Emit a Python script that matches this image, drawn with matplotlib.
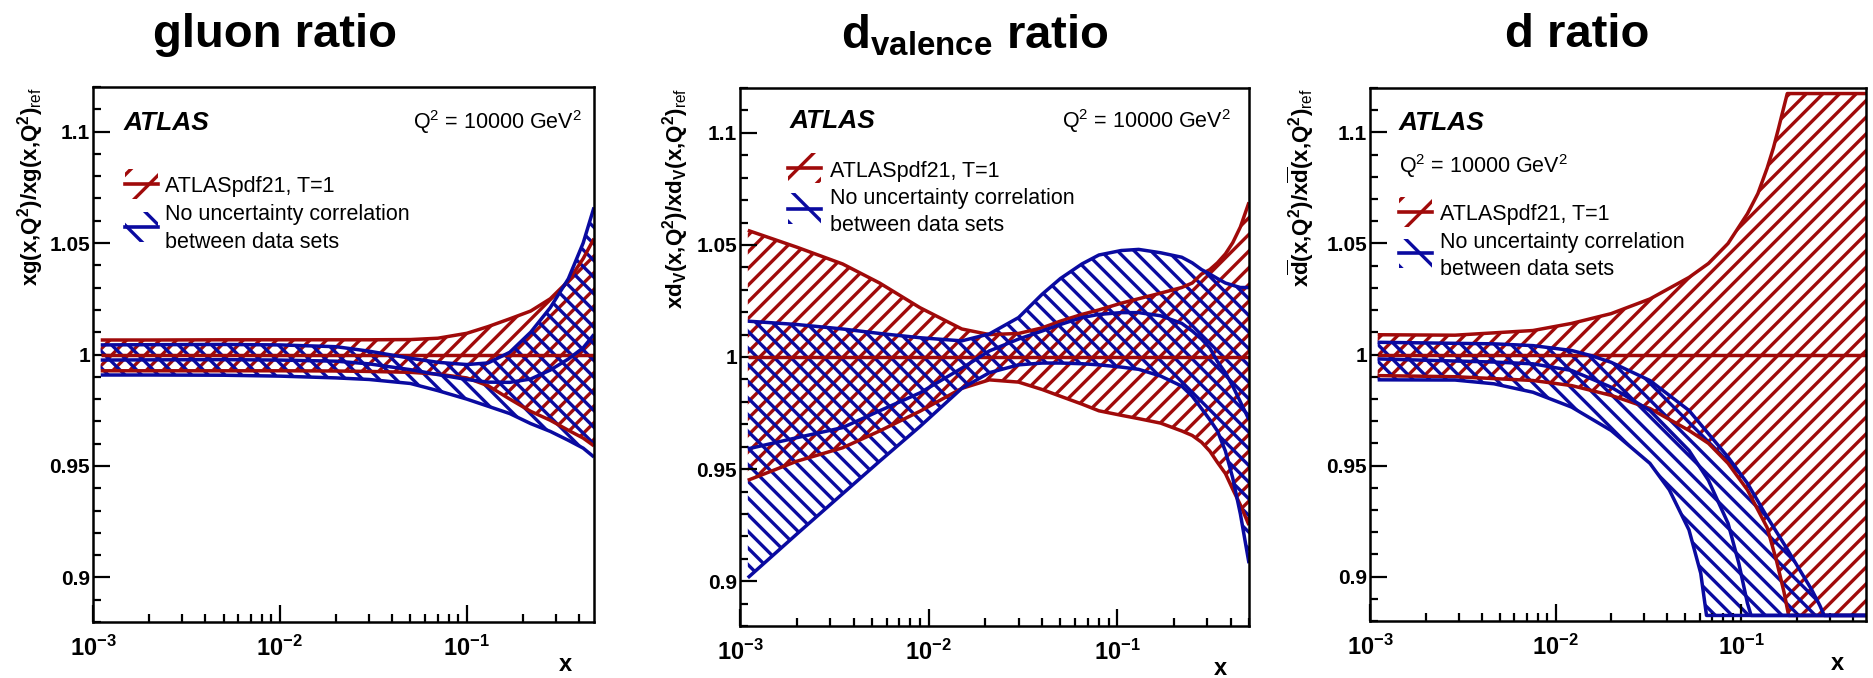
import numpy as np
import matplotlib
matplotlib.use('Agg')
import matplotlib.pyplot as plt
from matplotlib.patches import Rectangle
from matplotlib.lines import Line2D
from matplotlib.ticker import LogLocator, NullFormatter, MultipleLocator

plt.rcParams['font.family'] = ['Liberation Sans', 'DejaVu Sans']
plt.rcParams['mathtext.fontset'] = 'custom'
plt.rcParams['mathtext.rm'] = 'Liberation Sans'
plt.rcParams['mathtext.bf'] = 'Liberation Sans:bold'
plt.rcParams['mathtext.it'] = 'Liberation Sans:italic'
plt.rcParams['hatch.linewidth'] = 2.4

RED = '#a00a0a'
BLUE = '#0a0aa0'

# ---- gluon ratio ----
g_x = [0.0011, 0.002, 0.005, 0.01, 0.02, 0.03, 0.05, 0.07, 0.1, 0.13, 0.17, 0.22, 0.28, 0.35, 0.42, 0.48]
g_red_up = [1.0065, 1.0065, 1.0066, 1.0066, 1.0066, 1.0066, 1.0067, 1.0073, 1.0095, 1.0125, 1.016, 1.0195, 1.025, 1.033, 1.043, 1.052]
g_red_lo = [0.9927, 0.9927, 0.9927, 0.9927, 0.9926, 0.9924, 0.992, 0.9912, 0.9895, 0.986, 0.980, 0.9745, 0.9705, 0.966, 0.9625, 0.959]
g_blue_up = [1.0043, 1.0044, 1.0045, 1.0043, 1.0035, 1.0015, 0.9983, 0.9965, 0.9955, 0.9962, 1.001, 1.010, 1.021, 1.034, 1.050, 1.066]
g_blue_c = [0.9975, 0.9976, 0.9977, 0.9975, 0.997, 0.9958, 0.9932, 0.991, 0.9888, 0.9876, 0.9875, 0.989, 0.993, 0.998, 1.003, 1.009]
g_blue_lo = [0.9908, 0.9908, 0.9907, 0.9903, 0.9895, 0.9888, 0.987, 0.9838, 0.980, 0.9768, 0.9735, 0.969, 0.9655, 0.9615, 0.958, 0.954]
g_ref_x = [0.0011, 0.48]
g_ref = [1.0, 1.0]

# ---- d valence ratio ----
dv_x = [0.0011, 0.002, 0.0035, 0.0055, 0.009, 0.015, 0.021, 0.03, 0.04, 0.05, 0.065, 0.08,
        0.105, 0.13, 0.17, 0.22, 0.25, 0.28, 0.31, 0.34, 0.375, 0.41, 0.45, 0.5]
dv_red_up = [1.0565, 1.049, 1.0415, 1.033, 1.022, 1.0125, 1.010, 1.0105, 1.013, 1.016, 1.019, 1.021,
             1.024, 1.026, 1.0285, 1.031, 1.033, 1.037, 1.039, 1.042, 1.046, 1.051, 1.058, 1.069]
dv_red_lo = [0.945, 0.9535, 0.9595, 0.967, 0.9758, 0.986, 0.9898, 0.9888, 0.9855, 0.9825, 0.979, 0.976,
             0.974, 0.9725, 0.9705, 0.967, 0.965, 0.962, 0.958, 0.953, 0.948, 0.941, 0.934, 0.925]
dv_blue_up = [1.016, 1.0145, 1.0125, 1.0105, 1.0086, 1.0072, 1.0103, 1.0176, 1.028, 1.035, 1.0415, 1.0455,
              1.0475, 1.048, 1.0465, 1.0445, 1.042, 1.039, 1.037, 1.035, 1.033, 1.032, 1.031, 1.031]
dv_blue_c = [0.959, 0.964, 0.9685, 0.976, 0.984, 0.995, 1.0027, 1.008, 1.0116, 1.0145, 1.0176, 1.019,
             1.0198, 1.0198, 1.0184, 1.015, 1.0116, 1.008, 1.004, 0.998, 0.993, 0.987, 0.980, 0.972]
dv_blue_lo = [0.9015, 0.921, 0.939, 0.9535, 0.969, 0.986, 0.993, 0.9965, 0.9973, 0.9973, 0.997, 0.9965,
              0.9955, 0.9945, 0.9915, 0.987, 0.9825, 0.977, 0.972, 0.967, 0.958, 0.946, 0.930, 0.908]
dv_ref_x = [0.0011, 0.5]
dv_ref = [1.0, 1.0]

# ---- dbar ratio (curves clamp at the frame edges) ----
db_red_up_x = [0.0011, 0.00287, 0.00755, 0.0122, 0.0199, 0.0322, 0.0523, 0.0666, 0.0849, 0.108, 0.123, 0.138, 0.149, 0.159, 0.168, 0.177, 0.47]
db_red_up = [1.0089, 1.0087, 1.0108, 1.014, 1.0184, 1.025, 1.0347, 1.041, 1.050, 1.0634, 1.0725, 1.084, 1.093, 1.102, 1.110, 1.1175, 1.1175]
db_red_lo_x = [0.0011, 0.00287, 0.00755, 0.0122, 0.0199, 0.0322, 0.0523, 0.0666, 0.0849, 0.108, 0.138, 0.155, 0.17, 0.18, 0.47]
db_red_lo = [0.9905, 0.990, 0.9883, 0.986, 0.9816, 0.9757, 0.9658, 0.960, 0.951, 0.939, 0.922, 0.907, 0.893, 0.8825, 0.8825]
db_blue_up_x = [0.0011, 0.00466, 0.00755, 0.0122, 0.0155, 0.0199, 0.0322, 0.0523, 0.0849, 0.108, 0.138, 0.175, 0.21, 0.24, 0.265, 0.28, 0.47]
db_blue_up = [1.0055, 1.0048, 1.004, 1.0018, 0.9995, 0.9965, 0.9883, 0.9748, 0.9538, 0.942, 0.9268, 0.913, 0.902, 0.894, 0.887, 0.8825, 0.8825]
db_blue_c_x = [0.0011, 0.00466, 0.00755, 0.0122, 0.0199, 0.0322, 0.0523, 0.0666, 0.0849, 0.097, 0.108, 0.113, 0.47]
db_blue_c = [0.998, 0.9966, 0.9958, 0.9928, 0.9853, 0.9748, 0.9568, 0.9433, 0.924, 0.906, 0.888, 0.8825, 0.8825]
db_blue_lo_x = [0.0011, 0.00287, 0.00466, 0.00755, 0.0122, 0.0199, 0.0322, 0.041, 0.0523, 0.0605, 0.065, 0.47]
db_blue_lo = [0.9886, 0.9885, 0.9868, 0.983, 0.9763, 0.9658, 0.951, 0.939, 0.921, 0.9015, 0.8825, 0.8825]
db_ref_x = [0.0011, 0.47]
db_ref = [1.0, 1.0]

y_ticks = [0.9, 0.95, 1.0, 1.05, 1.1]
y_tick_labels = ['0.9', '0.95', '1', '1.05', '1.1']
x_ticks = [1e-3, 1e-2, 1e-1]
x_tick_labels = [r'$\mathbf{10^{-3}}$', r'$\mathbf{10^{-2}}$', r'$\mathbf{10^{-1}}$']


def band(ax, xu, yu, xl, yl, xc, yc, color, hatch):
    xu, yu, xl, yl = map(np.asarray, (xu, yu, xl, yl))
    ax.fill(np.concatenate([xu, xl[::-1]]), np.concatenate([yu, yl[::-1]]),
            facecolor='none', edgecolor=color, hatch=hatch, linewidth=0)
    for xx, yy in ((xu, yu), (xl, yl), (xc, yc)):
        ax.plot(xx, yy, color=color, lw=2.5, solid_capstyle='butt')


def style(ax, xmax, ylabel, ylab_x):
    ax.set_xscale('log')
    ax.set_xlim(1e-3, xmax)
    ax.set_ylim(0.88, 1.12)
    ax.set_yticks(y_ticks)
    ax.set_yticklabels(y_tick_labels, fontweight='bold')
    ax.yaxis.set_minor_locator(MultipleLocator(0.01))
    ax.set_xticks(x_ticks)
    ax.set_xticklabels(x_tick_labels)
    ax.xaxis.set_minor_locator(LogLocator(base=10, subs=np.arange(2, 10)))
    ax.xaxis.set_minor_formatter(NullFormatter())
    ax.tick_params(which='major', direction='in', length=12, width=1.6)
    ax.tick_params(which='minor', direction='in', length=5.5, width=1.6)
    ax.tick_params(axis='y', which='major', pad=2, labelsize=15)
    ax.tick_params(axis='x', which='major', pad=10, labelsize=17)
    for s in ax.spines.values():
        s.set_linewidth(1.8)
    ax.text(ylab_x, 1.0, ylabel, transform=ax.transAxes, rotation=90,
            ha='center', va='top', fontsize=16, fontweight='bold')
    ax.text(0.956, -0.079, 'x', transform=ax.transAxes, ha='right', va='center',
            fontsize=17, fontweight='bold')


def legend(ax, sx, sw, red_c, blue_c, tx, rows):
    sh = 0.056
    for color, hatch, yc in ((RED, '/', red_c), (BLUE, '\\', blue_c)):
        ax.add_patch(Rectangle((sx, yc - sh / 2), sw, sh, transform=ax.transAxes,
                               facecolor='none', edgecolor=color, hatch=hatch, lw=0, clip_on=False))
        ax.add_line(Line2D([sx, sx + sw], [yc, yc], transform=ax.transAxes, color=color, lw=2.6))
    labels = ['ATLASpdf21, T=1', 'No uncertainty correlation', 'between data sets']
    for lab, yb in zip(labels, rows):
        ax.text(tx, yb, lab, transform=ax.transAxes, ha='left', va='baseline', fontsize=15.5)


fig = plt.figure(figsize=(18.74, 6.78), dpi=100)
ax1 = fig.add_axes([93 / 1874, 1 - 622 / 678, 501 / 1874, 535 / 678])
ax2 = fig.add_axes([740 / 1874, 1 - 626 / 678, 509 / 1874, 538 / 678])
ax3 = fig.add_axes([1370 / 1874, 1 - 621 / 678, 496 / 1874, 533 / 678])

q2 = r'Q$^{2}$ = 10000 GeV$^{2}$'

# gluon
band(ax1, g_x, g_red_up, g_x, g_red_lo, g_ref_x, g_ref, RED, '//')
band(ax1, g_x, g_blue_up, g_x, g_blue_lo, g_x, g_blue_c, BLUE, '\\\\')
style(ax1, 0.48, r'xg(x,Q$^{\mathbf{2}}$)/xg(x,Q$^{\mathbf{2}}$)$_{\mathrm{ref}}$', -0.125)
ax1.text(0.060, 0.9196, 'ATLAS', transform=ax1.transAxes, fontsize=19, fontweight='bold',
         style='italic', va='baseline')
ax1.text(0.976, 0.9215, q2, transform=ax1.transAxes, fontsize=15.5, ha='right', va='baseline')
legend(ax1, 0.064, 0.066, 0.8187, 0.7383, 0.1437, [0.8037, 0.7514, 0.6991])

# d valence
band(ax2, dv_x, dv_red_up, dv_x, dv_red_lo, dv_ref_x, dv_ref, RED, '//')
band(ax2, dv_x, dv_blue_up, dv_x, dv_blue_lo, dv_x, dv_blue_c, BLUE, '\\\\')
style(ax2, 0.5, r'xd$_{\mathbf{V}}$(x,Q$^{\mathbf{2}}$)/xd$_{\mathbf{V}}$(x,Q$^{\mathbf{2}}$)$_{\mathrm{ref}}$', -0.127)
ax2.text(0.098, 0.9257, 'ATLAS', transform=ax2.transAxes, fontsize=19, fontweight='bold',
         style='italic', va='baseline')
ax2.text(0.965, 0.9257, q2, transform=ax2.transAxes, fontsize=15.5, ha='right', va='baseline')
legend(ax2, 0.094, 0.065, 0.8513, 0.776, 0.1768, [0.8346, 0.7844, 0.7342])

# dbar
band(ax3, db_red_up_x, db_red_up, db_red_lo_x, db_red_lo, db_ref_x, db_ref, RED, '//')
band(ax3, db_blue_up_x, db_blue_up, db_blue_lo_x, db_blue_lo, db_blue_c_x, db_blue_c, BLUE, '\\\\')
style(ax3, 0.47, r'x$\mathbf{\overline{d}}$(x,Q$^{\mathbf{2}}$)/x$\mathbf{\overline{d}}$(x,Q$^{\mathbf{2}}$)$_{\mathrm{ref}}$', -0.139)
ax3.text(0.0585, 0.9212, 'ATLAS', transform=ax3.transAxes, fontsize=19, fontweight='bold',
         style='italic', va='baseline')
ax3.text(0.0585, 0.8405, q2, transform=ax3.transAxes, fontsize=15.5, ha='left', va='baseline')
legend(ax3, 0.0585, 0.067, 0.7674, 0.6895, 0.1411, [0.7523, 0.6998, 0.6492])

# panel titles
fig.text(275 / 1874, 1 - 13 / 678, 'gluon ratio', ha='center', va='top', fontsize=34, fontweight='bold')
fig.text(975 / 1874, 1 - 13 / 678, r'd$_{\mathbf{valence}}$ ratio', ha='center', va='top',
         fontsize=34, fontweight='bold')
fig.text(1577 / 1874, 1 - 13 / 678, 'd ratio', ha='center', va='top', fontsize=34, fontweight='bold')

fig.savefig('out.png', dpi=100)
